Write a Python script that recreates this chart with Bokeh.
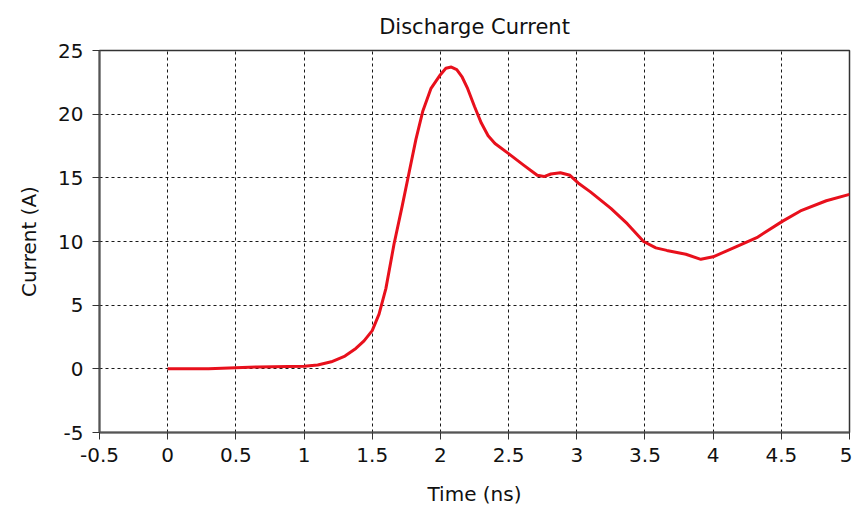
from bokeh.plotting import figure
from bokeh.models import Range1d, FixedTicker
from bokeh.embed import file_html
from bokeh.resources import INLINE

time_ns = [0.0, 0.3, 0.66, 1.0, 1.1, 1.2, 1.3, 1.38, 1.44, 1.5, 1.55, 1.6, 1.66, 1.72,
           1.77, 1.82, 1.87, 1.93, 2.0, 2.04, 2.08, 2.12, 2.16, 2.2, 2.25, 2.3, 2.35,
           2.4, 2.5, 2.61, 2.71, 2.76, 2.81, 2.88, 2.95, 3.01, 3.1, 3.25, 3.37, 3.49,
           3.58, 3.66, 3.8, 3.91, 4.0, 4.15, 4.32, 4.51, 4.64, 4.83, 5.0]
current_a = [0.0, 0.0, 0.15, 0.2, 0.3, 0.55, 1.0, 1.6, 2.2, 3.0, 4.3, 6.3, 9.8, 12.8,
             15.4, 18.0, 20.2, 22.0, 23.1, 23.6, 23.7, 23.5, 22.9, 22.0, 20.6, 19.3, 18.3,
             17.7, 16.9, 16.0, 15.2, 15.1, 15.3, 15.4, 15.2, 14.6, 13.9, 12.6, 11.4, 10.0,
             9.5, 9.3, 9.0, 8.6, 8.8, 9.5, 10.3, 11.6, 12.4, 13.2, 13.7]
x_ticks = [-0.5, 0, 0.5, 1, 1.5, 2, 2.5, 3, 3.5, 4, 4.5, 5]
x_tick_labels = ["-0.5", "0", "0.5", "1", "1.5", "2", "2.5", "3", "3.5", "4", "4.5", "5"]
y_ticks = [-5, 0, 5, 10, 15, 20, 25]
y_tick_labels = ["-5", "0", "5", "10", "15", "20", "25"]

FONT = "DejaVu Sans"
FS = "20px"

p = figure(width=852, height=508, output_backend="svg", toolbar_location=None,
           x_range=Range1d(-0.5, 5), y_range=Range1d(-5, 25),
           title="Discharge Current",
           x_axis_label="Time (ns)", y_axis_label="Current (A)",
           min_border_left=99, min_border_right=3, min_border_top=50, min_border_bottom=76)

p.title.align = "center"
p.title.text_font = FONT
p.title.text_font_size = "21px"
p.title.text_font_style = "normal"
p.title.text_color = "#111111"
p.title.offset = 0
p.title.standoff = 24

p.outline_line_color = "#333333"
p.outline_line_width = 1.5

for ax in (p.xaxis[0], p.yaxis[0]):
    ax.axis_line_color = "#555555"
    ax.axis_line_width = 2
    ax.major_tick_out = 7
    ax.major_tick_in = 0
    ax.major_tick_line_color = "#333333"
    ax.minor_tick_line_color = None
    ax.major_label_text_font = FONT
    ax.major_label_text_font_size = FS
    ax.major_label_text_color = "#111111"
    ax.axis_label_text_font = FONT
    ax.axis_label_text_font_size = FS
    ax.axis_label_text_font_style = "normal"
    ax.axis_label_text_color = "#111111"

p.xaxis.ticker = FixedTicker(ticks=x_ticks)
p.yaxis.ticker = FixedTicker(ticks=y_ticks)
p.xaxis.major_label_overrides = dict(zip(x_ticks, x_tick_labels))
p.yaxis.major_label_overrides = dict(zip(y_ticks, y_tick_labels))
p.xaxis.major_label_standoff = 8
p.yaxis.major_label_standoff = 9
p.xaxis.axis_label_standoff = 17
p.yaxis.axis_label_standoff = 14

for g in (p.xgrid[0], p.ygrid[0]):
    g.grid_line_color = "#000000"
    g.grid_line_dash = "3 3"
    g.grid_line_width = 1
    g.grid_line_alpha = 0.9

p.line(time_ns, current_a, line_color="#e8101c", line_width=3, line_join="round")

open("out.html", "w").write(file_html(p, INLINE))
